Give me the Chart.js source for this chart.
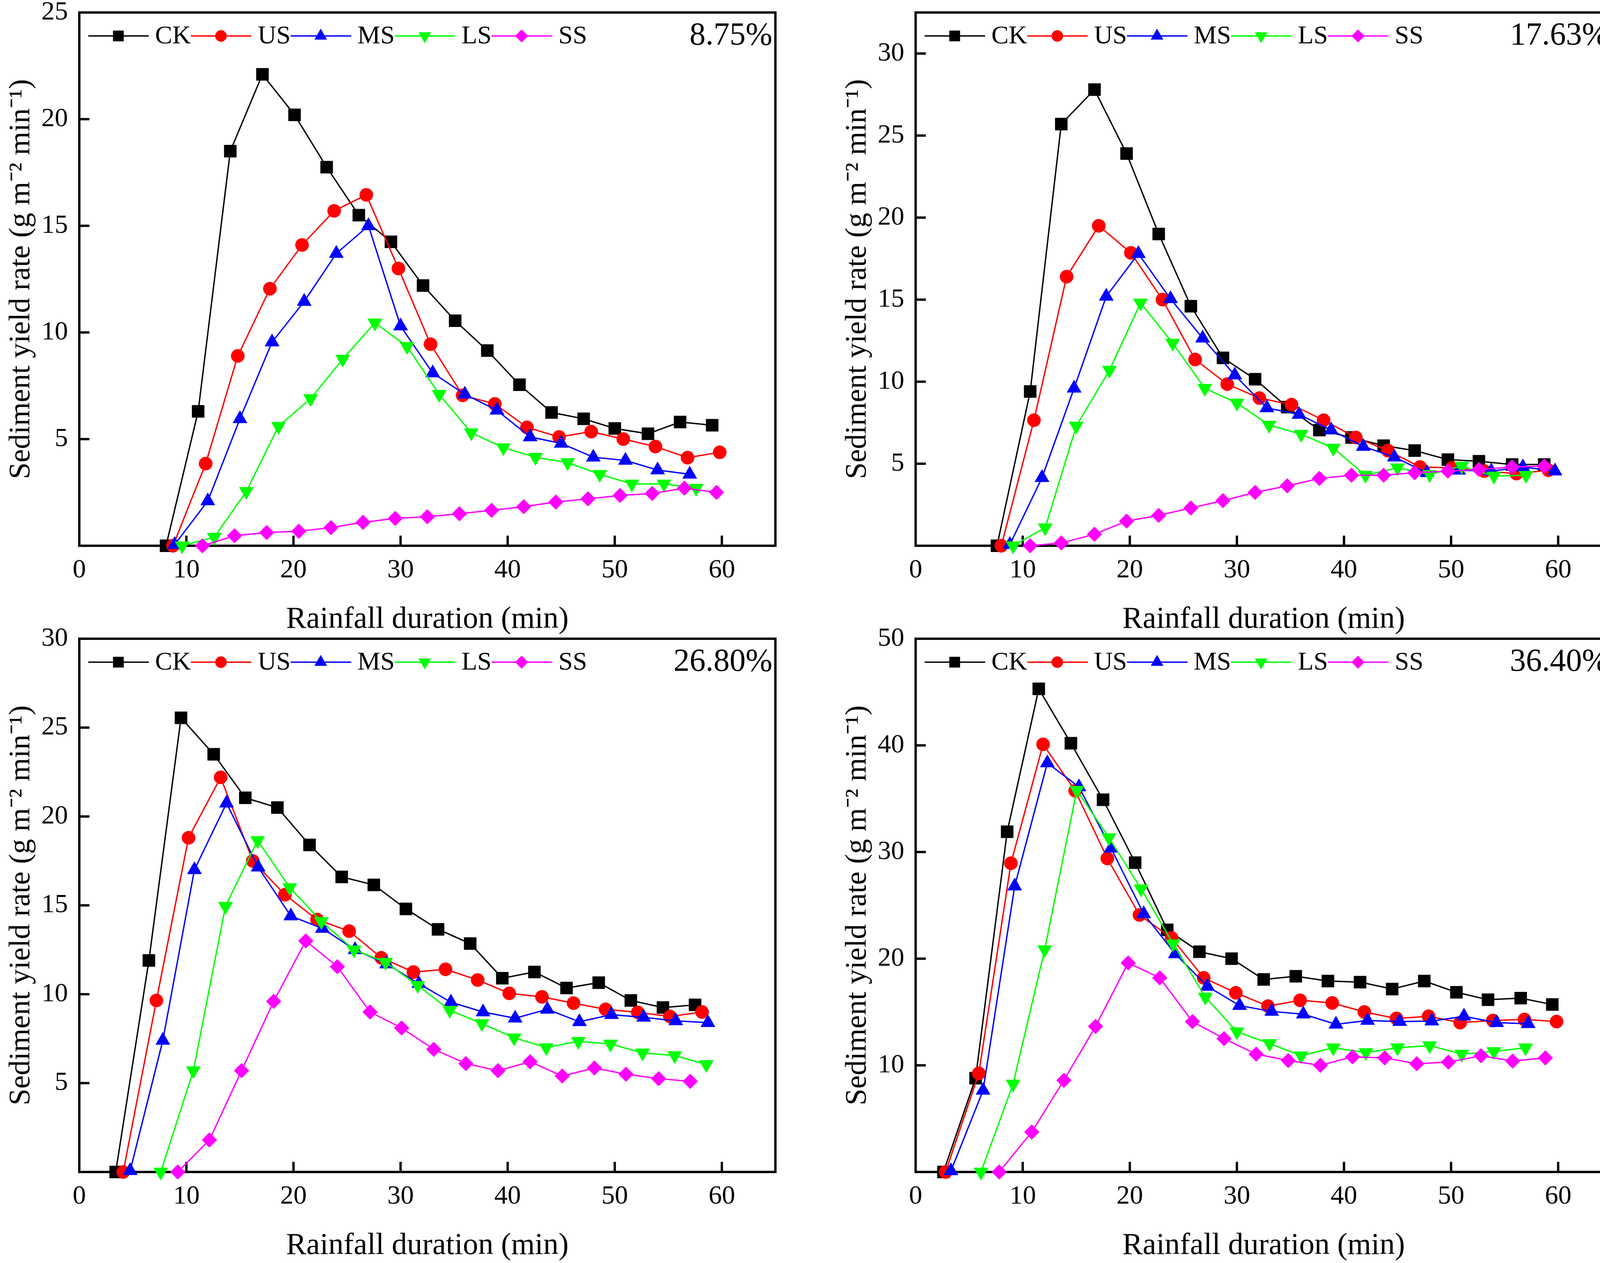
<!DOCTYPE html>
<html>
<head>
<meta charset="utf-8">
<script src="https://cdn.jsdelivr.net/npm/chart.js@4.4.1/dist/chart.umd.min.js"></script>
<style>
  html, body { margin: 0; padding: 0; background: #fff; width: 4134px; height: 3233px; overflow: hidden; }
  canvas { position: absolute; }
</style>
</head>
<body>
<canvas id="c1"></canvas>
<canvas id="c2"></canvas>
<canvas id="c3"></canvas>
<canvas id="c4"></canvas>
<script>
// series names and slope labels
var seriesNames = ['CK', 'US', 'MS', 'LS', 'SS'];
var slopeLabels = ['8.75%', '17.63%', '26.80%', '36.40%'];

// y axis range / tick step per panel
var yMax = [25, 32.5, 30, 50];
var yStep = [5, 5, 5, 10];
var xTicks = [0, 10, 20, 30, 40, 50, 60];

// [rainfall duration (min), sediment yield rate]
// panel 1 (8.75%)
var p1CK = [[8.1,0],[11.1,6.3],[14.1,18.5],[17.1,22.1],[20.1,20.2],[23.1,17.75],[26.1,15.5],[29.1,14.25],[32.1,12.2],[35.1,10.55],[38.1,9.15],[41.1,7.55],[44.1,6.25],[47.1,5.95],[50.0,5.5],[53.1,5.25],[56.1,5.8],[59.1,5.65]];
var p1US = [[8.75,0],[11.8,3.85],[14.8,8.9],[17.8,12.05],[20.8,14.1],[23.8,15.7],[26.8,16.45],[29.8,13.0],[32.8,9.45],[35.8,7.05],[38.8,6.65],[41.8,5.55],[44.8,5.1],[47.8,5.35],[50.8,5.0],[53.8,4.65],[56.8,4.13],[59.8,4.38]];
var p1MS = [[8.9,0.05],[12.0,2.1],[15.0,5.95],[18.0,9.55],[21.0,11.45],[24.0,13.7],[27.0,15.0],[30.0,10.3],[33.0,8.1],[36.0,7.1],[39.0,6.35],[42.1,5.1],[45.0,4.8],[48.0,4.15],[51.0,4.0],[54.0,3.55],[57.0,3.35]];
var p1LS = [[9.6,0],[12.6,0.4],[15.6,2.55],[18.6,5.6],[21.6,6.9],[24.6,8.75],[27.6,10.45],[30.6,9.35],[33.6,7.1],[36.6,5.3],[39.6,4.6],[42.6,4.15],[45.6,3.9],[48.6,3.35],[51.6,2.9],[54.6,2.9],[57.6,2.7]];
var p1SS = [[11.5,0],[14.5,0.47],[17.5,0.62],[20.5,0.68],[23.5,0.85],[26.5,1.1],[29.5,1.28],[32.5,1.36],[35.5,1.5],[38.5,1.66],[41.5,1.83],[44.5,2.05],[47.5,2.2],[50.5,2.36],[53.5,2.45],[56.5,2.7],[59.5,2.5]];

// panel 2 (17.63%)
var p2CK = [[7.6,0],[10.7,9.4],[13.6,25.7],[16.7,27.8],[19.7,23.9],[22.7,19.0],[25.7,14.6],[28.7,11.45],[31.7,10.15],[34.7,8.45],[37.7,7.05],[40.7,6.6],[43.7,6.1],[46.6,5.8],[49.7,5.25],[52.6,5.15],[55.7,4.95],[58.7,4.95]];
var p2US = [[8.0,0],[11.05,7.65],[14.1,16.4],[17.1,19.5],[20.1,17.85],[23.05,15.0],[26.1,11.35],[29.1,9.85],[32.1,9.0],[35.1,8.6],[38.1,7.65],[41.1,6.6],[44.1,5.8],[47.1,4.8],[50.1,4.75],[53.1,4.55],[56.1,4.4],[59.1,4.6]];
var p2MS = [[8.8,0.07],[11.8,4.15],[14.8,9.6],[17.8,15.2],[20.8,17.8],[23.8,15.05],[26.8,12.65],[29.8,10.4],[32.8,8.4],[35.8,8.0],[38.8,7.05],[41.8,6.05],[44.7,5.4],[47.75,4.45],[50.7,4.6],[53.75,4.55],[56.7,4.8],[59.7,4.55]];
var p2LS = [[9.1,0],[12.1,1.1],[15.0,7.3],[18.1,10.7],[21.0,14.8],[24.0,12.35],[27.0,9.6],[30.0,8.7],[33.0,7.35],[36.0,6.8],[39.0,5.95],[42.0,4.3],[45.0,4.75],[48.0,4.35],[51.0,4.85],[54.0,4.25],[57.0,4.3]];
var p2SS = [[10.7,0],[13.6,0.17],[16.7,0.7],[19.7,1.5],[22.7,1.85],[25.7,2.3],[28.7,2.75],[31.7,3.25],[34.7,3.65],[37.7,4.1],[40.7,4.3],[43.7,4.3],[46.6,4.45],[49.7,4.55],[52.6,4.65],[55.7,4.8],[58.7,4.85]];

// panel 3 (26.80%)
var p3CK = [[3.4,0],[6.5,11.9],[9.5,25.55],[12.55,23.5],[15.5,21.05],[18.5,20.5],[21.5,18.4],[24.5,16.6],[27.5,16.15],[30.5,14.8],[33.5,13.65],[36.5,12.85],[39.5,10.9],[42.5,11.25],[45.5,10.35],[48.5,10.65],[51.5,9.65],[54.5,9.25],[57.5,9.4]];
var p3US = [[4.1,0],[7.2,9.65],[10.2,18.8],[13.2,22.2],[16.2,17.5],[19.2,15.6],[22.2,14.2],[25.2,13.55],[28.2,12.05],[31.2,11.25],[34.2,11.4],[37.2,10.8],[40.15,10.05],[43.2,9.85],[46.15,9.5],[49.15,9.15],[52.15,8.98],[55.15,8.75],[58.15,9.0]];
var p3MS = [[4.75,0.07],[7.8,7.4],[10.75,17.0],[13.75,20.75],[16.7,17.15],[19.75,14.4],[22.7,13.7],[25.75,12.5],[28.7,11.7],[31.7,10.6],[34.7,9.55],[37.7,9.0],[40.7,8.65],[43.7,9.15],[46.7,8.45],[49.7,8.85],[52.7,8.7],[55.7,8.5],[58.7,8.4]];
var p3LS = [[7.6,0],[10.65,5.7],[13.65,14.95],[16.65,18.65],[19.65,16.0],[22.6,14.1],[25.65,12.5],[28.6,11.8],[31.6,10.5],[34.6,9.1],[37.6,8.35],[40.6,7.55],[43.6,7.0],[46.6,7.35],[49.6,7.2],[52.6,6.7],[55.6,6.55],[58.55,6.05]];
var p3SS = [[9.2,0],[12.15,1.8],[15.15,5.7],[18.15,9.6],[21.15,13.0],[24.1,11.55],[27.15,9.0],[30.1,8.1],[33.1,6.9],[36.1,6.1],[39.1,5.7],[42.1,6.2],[45.1,5.4],[48.1,5.85],[51.05,5.5],[54.1,5.25],[57.05,5.1]];

// panel 4 (36.40%)
var p4CK = [[2.6,0],[5.6,8.8],[8.55,31.9],[11.5,45.3],[14.5,40.2],[17.5,34.9],[20.5,29.0],[23.5,22.7],[26.5,20.65],[29.5,20.0],[32.5,18.05],[35.5,18.35],[38.5,17.9],[41.5,17.8],[44.5,17.15],[47.5,17.9],[50.5,16.85],[53.45,16.15],[56.5,16.3],[59.45,15.7]];
var p4US = [[2.8,0],[5.9,9.25],[8.9,28.95],[11.9,40.1],[14.9,35.75],[17.9,29.4],[20.9,24.1],[23.9,21.95],[26.9,18.2],[29.9,16.8],[32.9,15.55],[35.9,16.1],[38.9,15.85],[41.9,15.0],[44.9,14.4],[47.9,14.6],[50.85,14.0],[53.9,14.2],[56.85,14.3],[59.85,14.1]];
var p4MS = [[3.3,0.1],[6.3,7.65],[9.25,26.8],[12.3,38.35],[15.25,36.1],[18.25,30.35],[21.3,24.2],[24.25,20.45],[27.25,17.4],[30.25,15.6],[33.25,15.05],[36.2,14.8],[39.25,13.85],[42.2,14.2],[45.2,14.1],[48.2,14.15],[51.2,14.6],[54.25,14.0],[57.2,13.9]];
var p4LS = [[6.1,0],[9.1,8.25],[12.05,20.85],[15.05,35.8],[18.05,31.35],[21.05,26.55],[24.05,21.4],[27.05,16.4],[30.0,13.15],[33.05,12.05],[36.0,10.9],[39.0,11.65],[42.05,11.2],[45.0,11.65],[48.0,11.85],[51.0,11.05],[54.0,11.3],[56.95,11.65]];
var p4SS = [[7.8,0],[10.85,3.75],[13.85,8.6],[16.8,13.65],[19.85,19.6],[22.8,18.2],[25.85,14.1],[28.8,12.5],[31.8,11.05],[34.8,10.45],[37.8,10.0],[40.8,10.8],[43.8,10.7],[46.8,10.15],[49.75,10.3],[52.8,10.9],[55.75,10.4],[58.8,10.7]];

var panelData = [
  [p1CK, p1US, p1MS, p1LS, p1SS],
  [p2CK, p2US, p2MS, p2LS, p2SS],
  [p3CK, p3US, p3MS, p3LS, p3SS],
  [p4CK, p4US, p4MS, p4LS, p4SS]
];

// look of the series
var seriesColors = ['#000000', '#ff0000', '#0000ff', '#00ff00', '#ff00ff'];
var markerStyles = ['rect', 'circle', 'triangle', 'triangle', 'rectRot'];
var markerRotation = [0, 0, 0, 180, 0];
var markerRadius = [22, 17, 21, 21, 19];

// where each canvas sits on the page (plot box is 203px in from the left)
var panelPos = [
  { x: 0,    y: 0,    w: 2067 },
  { x: 2141, y: 0,    w: 1993 },
  { x: 0,    y: 1603, w: 2067 },
  { x: 2141, y: 1603, w: 1993 }
];
var CANVAS_H = 1680, AXIS_W = 203, PLOT_W = 1782, PLOT_TOP = 32, PLOT_H = 1365;

Chart.defaults.font.family = '"Liberation Serif", "Times New Roman", serif';
Chart.defaults.color = '#000';

/* box round the plot and inward tick marks */
var framePlugin = {
  id: 'frame',
  beforeDatasetsDraw: function(chart) {
    var ctx = chart.ctx, a = chart.chartArea;
    var xs = chart.scales.x, ys = chart.scales.y;
    ctx.save();
    ctx.strokeStyle = '#000';
    ctx.lineWidth = 6;
    ctx.strokeRect(a.left, a.top, a.right - a.left, a.bottom - a.top);
    ctx.beginPath();
    xs.ticks.forEach(function(t) {
      if (t.value <= xs.min || t.value >= xs.max) return;
      var px = xs.getPixelForValue(t.value);
      ctx.moveTo(px, a.bottom);
      ctx.lineTo(px, a.bottom - 26);
    });
    ys.ticks.forEach(function(t) {
      if (t.value <= ys.min || t.value >= ys.max) return;
      var py = ys.getPixelForValue(t.value);
      ctx.moveTo(a.left, py);
      ctx.lineTo(a.left + 26, py);
    });
    ctx.stroke();
    ctx.restore();
  }
};

/* legend inside the plot (line + marker + name) and the slope label */
var legendPlugin = {
  id: 'legendDeco',
  afterDraw: function(chart, args, opts) {
    var ctx = chart.ctx, a = chart.chartArea;
    var cx = a.left + 23, cy = a.top + 60;
    ctx.save();
    ctx.font = '66px "Liberation Serif"';
    ctx.textBaseline = 'middle';
    ctx.textAlign = 'left';
    chart.data.datasets.forEach(function(ds) {
      ctx.strokeStyle = ds.borderColor;
      ctx.lineWidth = ds.borderWidth;
      ctx.beginPath();
      ctx.moveTo(cx, cy);
      ctx.lineTo(cx + 155, cy);
      ctx.stroke();
      ctx.fillStyle = ds.backgroundColor;
      ctx.lineWidth = 1;
      Chart.helpers.drawPoint(ctx, {
        pointStyle: ds.pointStyle,
        rotation: ds.pointRotation,
        radius: ds.pointRadius * 0.85,
        borderWidth: 1
      }, cx + 77, cy);
      ctx.fillStyle = '#000';
      ctx.fillText(ds.label, cx + 171, cy + 2);
      cx += 171 + ctx.measureText(ds.label).width;
    });
    ctx.font = '82px "Liberation Serif"';
    ctx.textAlign = 'right';
    ctx.fillText(opts.label, a.right - 8, cy);
    ctx.restore();
  }
};

function makePanel(i) {
  var pos = panelPos[i];
  var cv = document.getElementById('c' + (i + 1));
  cv.width = pos.w;
  cv.height = CANVAS_H;
  cv.style.left = pos.x + 'px';
  cv.style.top = pos.y + 'px';

  var datasets = seriesNames.map(function(name, k) {
    return {
      label: name,
      data: panelData[i][k].map(function(p) { return { x: p[0], y: p[1] }; }),
      showLine: true,
      borderColor: seriesColors[k],
      backgroundColor: seriesColors[k],
      borderWidth: 3.5,
      pointStyle: markerStyles[k],
      pointRotation: markerRotation[k],
      pointRadius: markerRadius[k],
      pointBorderWidth: 1,
      pointBorderColor: seriesColors[k],
      pointBackgroundColor: seriesColors[k],
      tension: 0,
      clip: false,
      order: 4 - k
    };
  });

  var step = yStep[i];
  new Chart(cv, {
    type: 'scatter',
    data: { datasets: datasets },
    options: {
      responsive: false,
      animation: false,
      devicePixelRatio: 1,
      events: [],
      layout: {
        autoPadding: false,
        padding: { top: PLOT_TOP, left: 0, right: pos.w - AXIS_W - PLOT_W, bottom: 0 }
      },
      plugins: {
        legend: { display: false },
        tooltip: { enabled: false },
        legendDeco: { label: slopeLabels[i] }
      },
      scales: {
        x: {
          type: 'linear',
          min: 0, max: 65,
          afterBuildTicks: function(s) { s.ticks = xTicks.map(function(v) { return { value: v }; }); },
          afterFit: function(s) {
            s.height = CANVAS_H - PLOT_TOP - PLOT_H;
            s.paddingLeft = 0; s.paddingRight = 0;
          },
          grid: { display: false, drawTicks: false },
          border: { display: false },
          ticks: { font: { size: 68 }, padding: 22, maxRotation: 0, autoSkip: false },
          title: {
            display: true,
            text: 'Rainfall duration (min)',
            font: { size: 78 },
            padding: { top: 0, bottom: 47 }
          }
        },
        y: {
          type: 'linear',
          min: 0, max: yMax[i],
          ticks: {
            stepSize: step,
            font: { size: 68 },
            padding: 29,
            callback: function(v) { return v === 0 ? '' : v; }
          },
          afterBuildTicks: function(s) {
            s.ticks = s.ticks.filter(function(t) { return t.value % step === 0; });
          },
          afterFit: function(s) {
            s.width = AXIS_W;
            s.paddingTop = 0; s.paddingBottom = 0;
          },
          grid: { display: false, drawTicks: false },
          border: { display: false },
          title: {
            display: true,
            text: 'Sediment yield rate (g m\u207B\u00B2 min\u207B\u00B9)',
            font: { size: 77 },
            padding: { top: 9, bottom: 0 }
          }
        }
      }
    },
    plugins: [framePlugin, legendPlugin]
  });
}

for (var i = 0; i < 4; i++) makePanel(i);
</script>
</body>
</html>
